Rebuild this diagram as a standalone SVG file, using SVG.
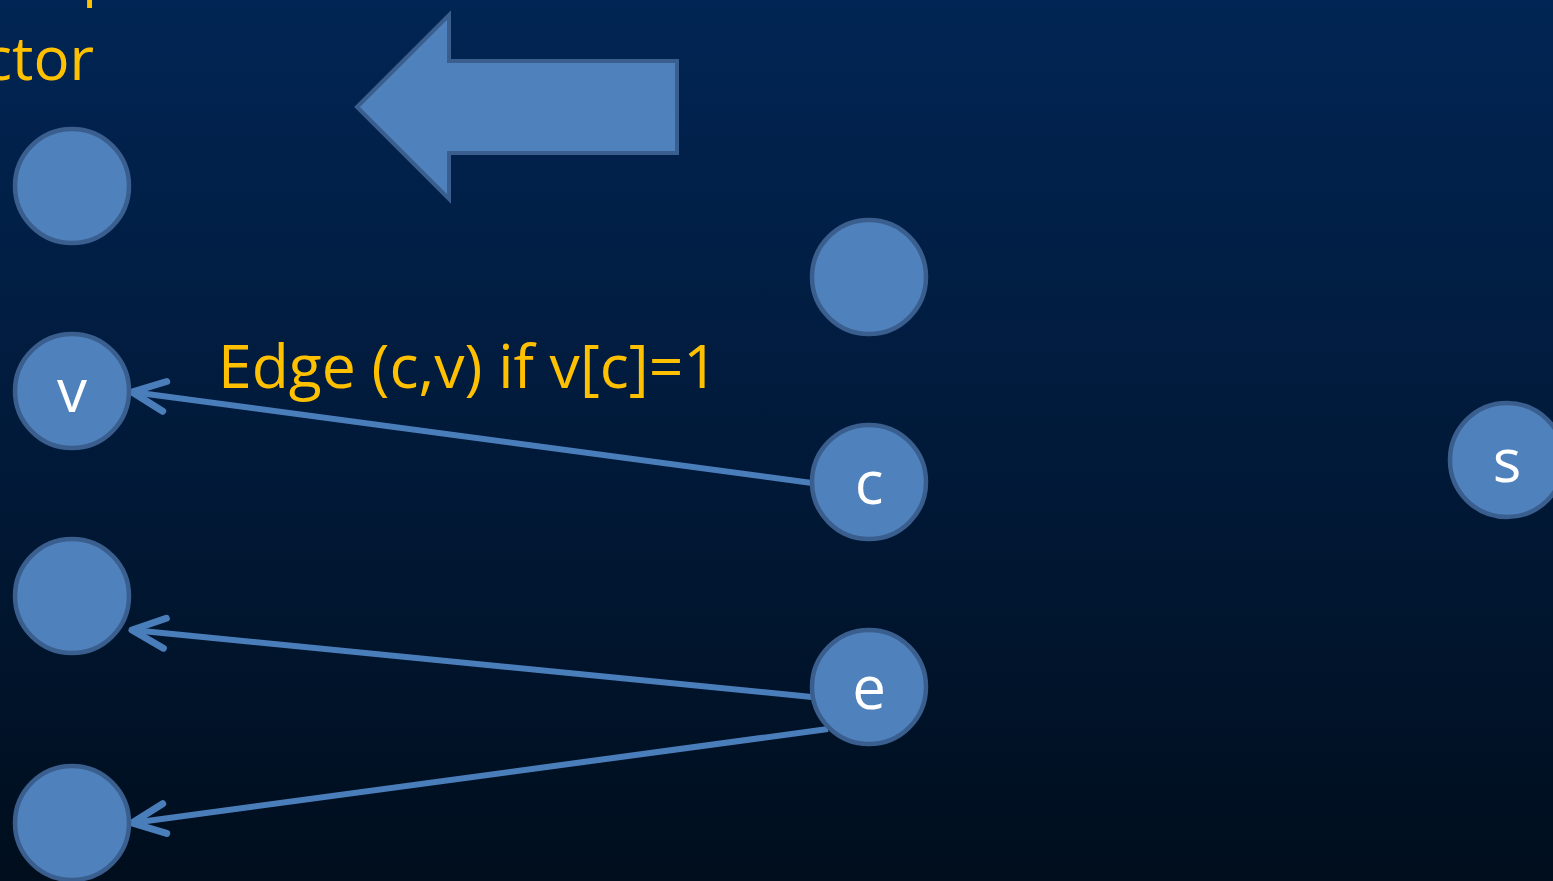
<svg xmlns="http://www.w3.org/2000/svg" width="1553" height="881" viewBox="0 0 1553 881">
<defs>
<linearGradient id="bg" x1="0" y1="0" x2="0" y2="1">
<stop offset="0" stop-color="#012554"/>
<stop offset="0.5" stop-color="#011a3a"/>
<stop offset="1" stop-color="#000e1d"/>
</linearGradient>
<marker id="open" markerUnits="userSpaceOnUse" viewBox="-45 -25 50 50" markerWidth="50" markerHeight="50" refX="0" refY="0" orient="auto" overflow="visible">
<path d="M -33 -15 L 0 0 L -33 15" fill="none" stroke="#4a7ebb" stroke-width="7" stroke-linecap="round" stroke-linejoin="round"/>
</marker>
</defs>
<style>
.node{fill:#4f81bd;stroke:#3a5f8e;stroke-width:4.5}
.lbl{font-family:"Open Sans","Liberation Sans",sans-serif;font-size:60px;fill:#ffffff;text-anchor:middle}
.ytxt{font-family:"Open Sans","Liberation Sans",sans-serif;font-size:60px;fill:#ffc000}
.edge{stroke:#4a7ebb;stroke-width:6;fill:none;marker-end:url(#open)}
</style>
<rect width="1553" height="881" fill="url(#bg)"/>
<g id="title-fragment">
<text class="ytxt" x="82" y="-6">p</text>
<text class="ytxt" x="94" y="80" text-anchor="end">ctor</text>
</g>
<g id="block-arrow">
<polygon points="357,107 449,15 449,61 677,61 677,153 449,153 449,199" fill="#4f81bd" stroke="#3a5f8e" stroke-width="4"/>
</g>
<g id="connectors">
<line class="edge" x1="812" y1="483" x2="132" y2="392"/>
<line class="edge" x1="812" y1="697" x2="132" y2="630"/>
<line class="edge" x1="828" y1="729" x2="132" y2="823"/>
<text class="ytxt" x="218" y="388" textLength="500" lengthAdjust="spacingAndGlyphs">Edge (c,v) if v[c]=1</text>
</g>
<g id="node-l1"><circle class="node" cx="72" cy="186" r="57"/></g>
<g id="node-v"><circle class="node" cx="72" cy="391" r="57"/><text class="lbl" x="72" y="412">v</text></g>
<g id="node-l3"><circle class="node" cx="72" cy="596" r="57"/></g>
<g id="node-l4"><circle class="node" cx="72" cy="823" r="57"/></g>
<g id="node-m1"><circle class="node" cx="869" cy="277" r="57"/></g>
<g id="node-c"><circle class="node" cx="869" cy="482" r="57"/><text class="lbl" x="869" y="504">c</text></g>
<g id="node-e"><circle class="node" cx="869" cy="687" r="57"/><text class="lbl" x="869" y="709">e</text></g>
<g id="node-s"><circle class="node" cx="1507" cy="460" r="57"/><text class="lbl" x="1507" y="482">s</text></g>
</svg>
